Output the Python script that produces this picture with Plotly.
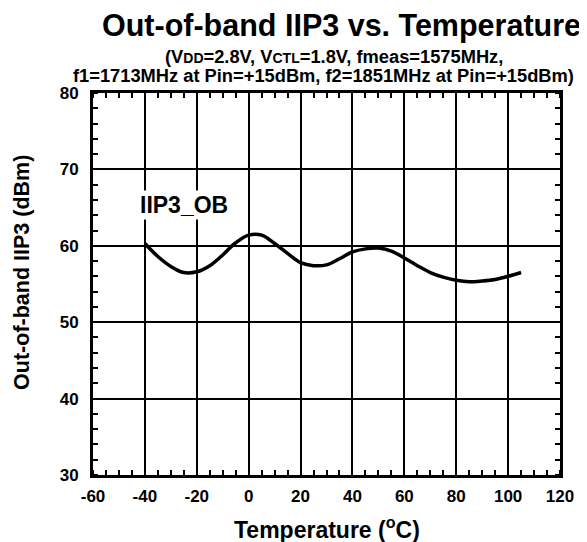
import plotly.graph_objects as go

# Out-of-band IIP3 vs. temperature
temp_c = [-40, -35, -30, -25, -20, -15, -10, -5, 0, 5, 10, 15, 20, 25, 30,
          35, 40, 45, 50, 55, 60, 65, 70, 75, 80, 85, 90, 95, 100, 105]
iip3_ob = [60.3, 58.6, 57.3, 56.5, 56.6, 57.4, 58.8, 60.4, 61.4, 61.4, 60.3,
           59.0, 57.8, 57.4, 57.5, 58.3, 59.2, 59.6, 59.7, 59.3, 58.4, 57.4,
           56.5, 55.9, 55.5, 55.3, 55.4, 55.6, 56.0, 56.5]

x_ticks = [-60, -40, -20, 0, 20, 40, 60, 80, 100, 120]
x_labels = ["-60", "-40", "-20", "0", "20", "40", "60", "80", "100", "120"]
y_ticks = [30, 40, 50, 60, 70, 80]

FONT = "Arial, Liberation Sans, sans-serif"


def bold(size):
    return dict(size=size, color="black", family=FONT, weight="bold")


fig = go.Figure()
fig.add_trace(go.Scatter(x=temp_c, y=iip3_ob, mode="lines",
                         line=dict(color="black", width=3.5, shape="spline"),
                         showlegend=False, hoverinfo="skip"))

axis_common = dict(
    showline=True, linecolor="black", linewidth=3, mirror="allticks",
    showgrid=True, gridcolor="black", gridwidth=1.8,
    ticks="", zeroline=False, automargin=False,
    tickfont=bold(17),
)

fig.update_xaxes(range=[-60, 120], tickvals=x_ticks, ticktext=x_labels,
                 ticklabelstandoff=4,
                 minor=dict(ticks="inside", dtick=5, ticklen=5, tickwidth=2,
                            tickcolor="black", showgrid=False),
                 **axis_common)
fig.update_yaxes(range=[30, 80], tickvals=y_ticks, ticklabelstandoff=8,
                 minor=dict(ticks="inside", dtick=2, ticklen=5, tickwidth=2,
                            tickcolor="black", showgrid=False),
                 **axis_common)

# axis titles
fig.add_annotation(xref="paper", yref="paper", x=0.5, y=0, yshift=-53,
                   xanchor="center", yanchor="middle", showarrow=False,
                   text="Temperature (<sup>o</sup>C)", font=bold(23))
fig.add_annotation(xref="paper", yref="paper", x=0, y=0.529, xshift=-71,
                   xanchor="center", yanchor="middle", showarrow=False,
                   textangle=-90, text="Out-of-band IIP3 (dBm)", font=bold(21.5))

# title block
sub = "<span style='font-size:14px'>{}</span>"
fig.add_annotation(xref="paper", yref="paper", x=0.532, y=1.0, yshift=68,
                   xanchor="center", yanchor="middle", showarrow=False,
                   text="Out-of-band IIP3 vs. Temperature", font=bold(30.5))
fig.add_annotation(xref="paper", yref="paper", x=0.515, y=1.0, yshift=37,
                   xanchor="center", yanchor="middle", showarrow=False,
                   text="(V" + sub.format("DD") + "=2.8V, V" + sub.format("CTL")
                        + "=1.8V, fmeas=1575MHz,",
                   font=bold(18.3))
fig.add_annotation(xref="paper", yref="paper", x=0.494, y=1.0, yshift=18,
                   xanchor="center", yanchor="middle", showarrow=False,
                   text="f1=1713MHz at Pin=+15dBm, f2=1851MHz at Pin=+15dBm)",
                   font=bold(18.3))

fig.add_annotation(x=-25, y=65.3, showarrow=False, text="IIP3_OB",
                   bgcolor="white", borderpad=1, font=bold(23))

# the page has an 8px body margin, so the figure is 8px smaller and shifted
fig.update_layout(
    width=579, height=534,
    margin=dict(l=85, r=27, t=85, b=67),
    plot_bgcolor="white", paper_bgcolor="white",
    font=dict(family=FONT, color="black"),
)

fig.write_html("out.html")
